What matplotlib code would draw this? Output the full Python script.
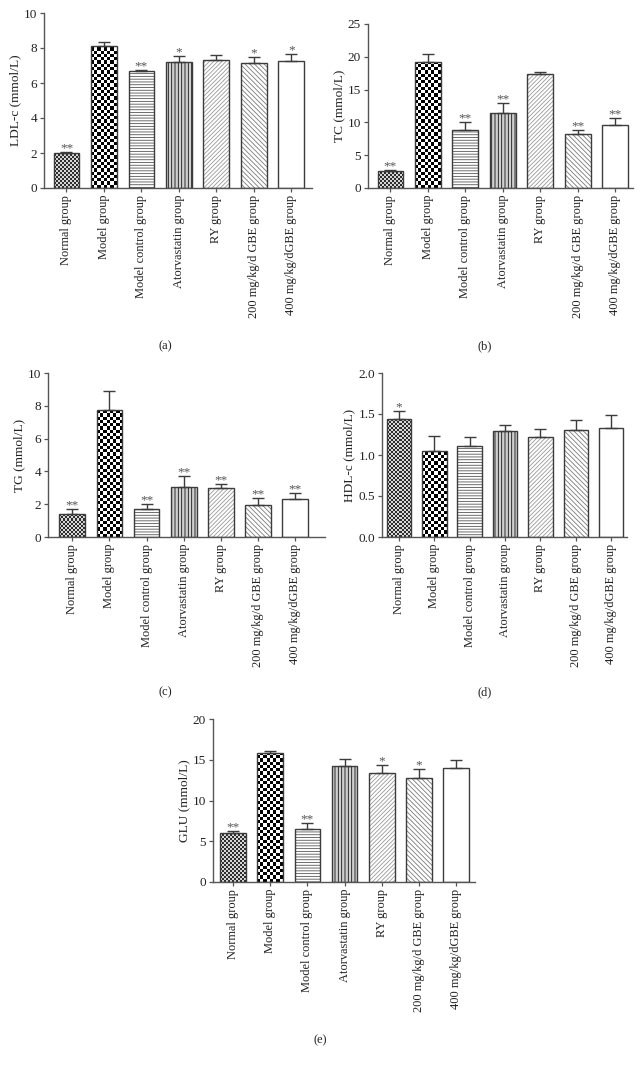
import numpy as np
import matplotlib
matplotlib.use("Agg")
import matplotlib.pyplot as plt

plt.rcParams['font.family'] = ['Liberation Serif', 'DejaVu Serif']
plt.rcParams['hatch.linewidth'] = 0.6

groups = ["Normal group", "Model group", "Model control group", "Atorvastatin group",
          "RY group", "200 mg/kg/d GBE group", "400 mg/kg/dGBE group"]

ldl_mean = [2.0, 8.12, 6.70, 7.21, 7.34, 7.15, 7.27]
ldl_err = [0.08, 0.22, 0.07, 0.36, 0.26, 0.33, 0.36]
ldl_sig = ["**", "", "**", "*", "", "*", "*"]

tc_mean = [2.54, 19.26, 8.90, 11.43, 17.43, 8.28, 9.55]
tc_err = [0.15, 1.24, 1.16, 1.53, 0.20, 0.62, 1.07]
tc_sig = ["**", "", "**", "**", "", "**", "**"]

tg_mean = [1.42, 7.74, 1.73, 3.02, 2.99, 1.95, 2.30]
tg_err = [0.27, 1.18, 0.30, 0.72, 0.26, 0.45, 0.40]
tg_sig = ["**", "", "**", "**", "**", "**", "**"]

hdl_mean = [1.435, 1.05, 1.11, 1.29, 1.22, 1.30, 1.33]
hdl_err = [0.10, 0.18, 0.11, 0.07, 0.10, 0.13, 0.16]
hdl_sig = ["*", "", "", "", "", "", ""]

glu_mean = [6.0, 15.8, 6.5, 14.27, 13.37, 12.8, 14.03]
glu_err = [0.30, 0.23, 0.74, 0.78, 0.93, 1.10, 0.90]
glu_sig = ["**", "", "**", "", "*", "*", ""]

W, H = 643, 1066
fig = plt.figure(figsize=(W / 100, H / 100), dpi=100)

EDGE = '#3c3c3c'
TXT = '#222222'

# pattern styles per group
styles = [
    ('checker', 2.0, '#2e2e2e', '#d6d6d6'),
    ('checker', 3.25, '#000000', '#ffffff'),
    ('hatch', '------', '#ffffff', '#555555'),
    ('hatch', '|||||', '#cfcfcf', '#111111'),
    ('hatch', '////////', '#ffffff', '#9a9a9a'),
    ('hatch', '\\\\\\\\\\\\\\', '#ffffff', '#7a7a7a'),
    ('plain', None, '#ffffff', None),
]


def make_axes(left, right, top, bottom):
    return fig.add_axes([left / W, 1 - bottom / H, (right - left) / W, (bottom - top) / H])


def panel(ax, means, errs, sigs, ylim, yticks, ylabel, xlim, fmt="{:g}"):
    x = np.arange(len(groups))
    width = 0.69
    ax.set_xlim(*xlim)
    ax.set_ylim(*ylim)
    fig.canvas.draw()
    px_per_x = ax.transData.transform((1, 0))[0] - ax.transData.transform((0, 0))[0]
    px_per_y = ax.transData.transform((0, 1))[1] - ax.transData.transform((0, 0))[1]
    for i, (m, st) in enumerate(zip(means, styles)):
        kind = st[0]
        if kind == 'checker':
            cell = st[1]
            bw = width * px_per_x
            ncol = max(1, int(round(bw / cell)))
            cell_h = cell / px_per_y
            nrow = int(np.ceil(m / cell_h)) + 1
            arr = (np.add.outer(np.arange(nrow), np.arange(ncol)) % 2).astype(float)
            rect = ax.bar(x[i], m, width, color='white', linewidth=0, zorder=1)[0]
            cmap = matplotlib.colors.ListedColormap([st[2], st[3]])
            im = ax.imshow(arr, extent=(x[i] - width / 2, x[i] + width / 2, 0, nrow * cell_h),
                           origin='lower', cmap=cmap, interpolation='nearest',
                           aspect='auto', zorder=1.5, vmin=0, vmax=1)
            im.set_clip_path(rect)
        elif kind == 'hatch':
            ax.bar(x[i], m, width, color=st[2], edgecolor=st[3], hatch=st[1],
                   linewidth=0, zorder=1)
        else:
            ax.bar(x[i], m, width, color=st[2], linewidth=0, zorder=1)
    ax.bar(x, means, width, fill=False, edgecolor=EDGE, linewidth=1.0, zorder=3)
    ax.errorbar(x, means, yerr=[np.zeros(len(means)), errs], fmt='none', ecolor=EDGE,
                elinewidth=1.0, capsize=4, capthick=1.0, zorder=2.5)
    for i, s in enumerate(sigs):
        if s:
            ax.annotate(s, (x[i], means[i] + errs[i]), xytext=(0, 0.5),
                        textcoords='offset points', ha='center', va='baseline',
                        fontsize=9.5, color='#555555', zorder=4)
    ax.set_xlim(*xlim)
    ax.set_ylim(*ylim)
    ax.set_yticks(yticks)
    ax.set_yticklabels([fmt.format(t) for t in yticks], fontsize=9.5, color=TXT)
    ax.set_xticks(x)
    ax.set_xticklabels(groups, rotation=90, fontsize=8.9, color=TXT)
    ax.set_ylabel(ylabel, fontsize=9.6, color=TXT, labelpad=2)
    for sp in ['top', 'right']:
        ax.spines[sp].set_visible(False)
    for sp in ['left', 'bottom']:
        ax.spines[sp].set_color('#555555')
        ax.spines[sp].set_linewidth(1.0)
    ax.tick_params(axis='both', direction='out', length=3, width=0.9, color='#555555', pad=2)
    ax.set_facecolor('none')


axa = make_axes(44, 312, 13, 188)
panel(axa, ldl_mean, ldl_err, ldl_sig, (0, 10), [0, 2, 4, 6, 8, 10], "LDL-c (mmol/L)", (-0.6, 6.55))

axb = make_axes(368, 633, 24, 188)
panel(axb, tc_mean, tc_err, tc_sig, (0, 25), [0, 5, 10, 15, 20, 25], "TC (mmol/L)", (-0.6, 6.48))

axc = make_axes(48, 325, 373, 537)
panel(axc, tg_mean, tg_err, tg_sig, (0, 10), [0, 2, 4, 6, 8, 10], "TG (mmol/L)", (-0.65, 6.8))

axd = make_axes(382, 627, 373, 537)
panel(axd, hdl_mean, hdl_err, hdl_sig, (0, 2.0), [0, 0.5, 1.0, 1.5, 2.0], "HDL-c (mmol/L)",
      (-0.48, 6.45), fmt="{:.1f}")

axe = make_axes(213, 475, 719, 882)
panel(axe, glu_mean, glu_err, glu_sig, (0, 20), [0, 5, 10, 15, 20], "GLU (mmol/L)", (-0.54, 6.51))

for lab, (px, py) in zip(["(a)", "(b)", "(c)", "(d)", "(e)"],
                         [(165, 346), (485, 346), (165, 692), (485, 692), (320, 1040)]):
    fig.text(px / W, 1 - py / H, lab, ha='center', va='center', fontsize=9, color=TXT)

fig.savefig("out.png", dpi=100, facecolor='white')
